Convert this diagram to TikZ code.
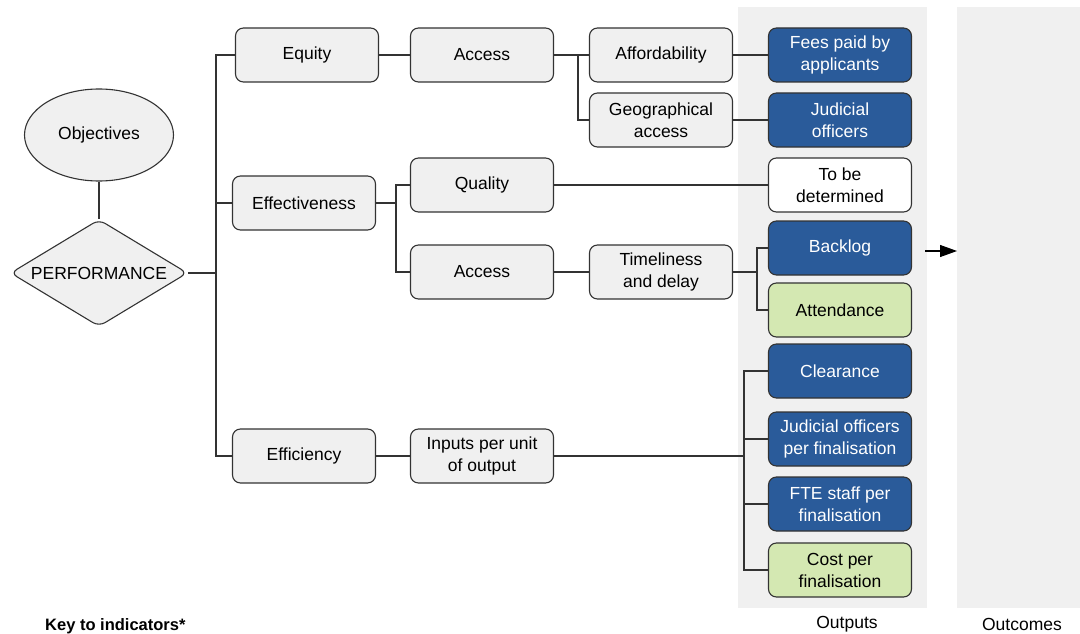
\documentclass[tikz,border=0pt]{standalone}
\usepackage{fontspec}
\setmainfont{Liberation Sans}
\usetikzlibrary{shapes.geometric,arrows.meta}
\definecolor{boxgray}{HTML}{F0F0F0}
\definecolor{panelgray}{HTML}{F0F0F0}
\definecolor{indblue}{HTML}{2A5B9A}
\definecolor{indgreen}{HTML}{D4E8B2}
\definecolor{edgecol}{HTML}{333333}
\tikzset{
  box/.style={draw=edgecol, line width=1.1pt, rounded corners=8pt, fill=boxgray,
    minimum width=143pt, minimum height=54pt, align=center, inner sep=2pt,
    font=\fontsize{17.5}{22}\selectfont, text=black},
  indb/.style={box, fill=indblue, draw=edgecol, text=white},
  indg/.style={box, fill=indgreen},
  indw/.style={box, fill=white},
  conn/.style={draw=edgecol, line width=1.1pt},
  lbl/.style={font=\fontsize{17.5}{22}\selectfont, inner sep=0pt}
}
\begin{document}
\begin{tikzpicture}[x=1pt,y=-1pt]
\useasboundingbox (0,0) rectangle (1080,634);
% panels
\fill[panelgray] (738,7) rectangle (927,608);
\fill[panelgray] (957,7) rectangle (1080,608);
% left
\node[ellipse, draw=edgecol, line width=1.1pt, fill=boxgray, minimum width=149pt, minimum height=92pt, font=\fontsize{17.5}{22}\selectfont] (obj) at (99,135) {Objectives};
\node[diamond, draw=edgecol, line width=1.1pt, fill=boxgray, inner sep=0pt, shape aspect=1.65, minimum width=177pt, minimum height=107pt, rounded corners=7pt, font=\fontsize{17.5}{22}\selectfont] (perf) at (99,273) {PERFORMANCE};
\draw[conn] (obj.south) -- (perf.north);
% level 1
\node[box] (equity) at (307,55) {Equity};
\node[box] (effect) at (304,203) {Effectiveness};
\node[box] (effic) at (304,456) {Efficiency};
\coordinate (t1) at (216,273);
\draw[conn] (perf.east) -- (t1);
\draw[conn] (t1) |- (equity.west);
\draw[conn] (t1) |- (effect.west);
\draw[conn] (t1) |- (effic.west);
% level 2
\node[box] (access1) at (482,55) {Access};
\node[box] (quality) at (482,185) {Quality};
\node[box] (access2) at (482,272) {Access};
\node[box] (inputs) at (482,456) {Inputs per unit\\of output};
\draw[conn] (equity.east) -- (access1.west);
\coordinate (t2) at (396,203);
\draw[conn] (effect.east) -- (t2);
\draw[conn] (t2) |- (quality.west);
\draw[conn] (t2) |- (access2.west);
\draw[conn] (effic.east) -- (inputs.west);
% level 3
\node[box] (afford) at (661,55) {Affordability};
\node[box] (geo) at (661,120) {Geographical\\access};
\node[box] (timely) at (661,272) {Timeliness\\and delay};
\draw[conn] (access1.east) -- (afford.west);
\coordinate (t3) at (578,55);
\draw[conn] (t3) |- (geo.west);
\draw[conn] (access2.east) -- (timely.west);
% indicators
\node[indb] (fees) at (840,55) {Fees paid by\\applicants};
\node[indb] (judo) at (840,120) {Judicial\\officers};
\node[indw] (tbd) at (840,185) {To be\\determined};
\node[indb] (backlog) at (840,248) {Backlog};
\node[indg] (attend) at (840,310) {Attendance};
\node[indb] (clear) at (840,371) {Clearance};
\node[indb] (jopf) at (840,439) {Judicial officers\\per finalisation};
\node[indb] (fte) at (840,504) {FTE staff per\\finalisation};
\node[indg] (cost) at (840,570) {Cost per\\finalisation};
\draw[conn] (afford.east) -- (fees.west);
\draw[conn] (geo.east) -- (judo.west);
\draw[conn] (quality.east) -- (tbd.west);
\coordinate (t4) at (757,272);
\draw[conn] (timely.east) -- (t4);
\draw[conn] (t4) |- (backlog.west);
\draw[conn] (t4) |- (attend.west);
\coordinate (t5) at (744,456);
\draw[conn] (inputs.east) -- (t5);
\draw[conn] (t5) |- (clear.west);
\draw[conn] (t5) |- (jopf.west);
\draw[conn] (t5) |- (fte.west);
\draw[conn] (t5) |- (cost.west);
% arrow
\coordinate (a1) at (925,251);
\coordinate (a2) at (957,251);
\draw[conn, draw=black, -{Triangle[length=17pt,width=12pt]}] (a1) -- (a2);
% labels
\node[lbl] (outputs) at (847,624) {Outputs};
\node[lbl] (outcomes) at (1022,624) {Outcomes};
\node[lbl, font=\fontsize{16.5}{19}\selectfont\bfseries, anchor=west] (key) at (45,626) {Key to indicators*};
\end{tikzpicture}
\end{document}
